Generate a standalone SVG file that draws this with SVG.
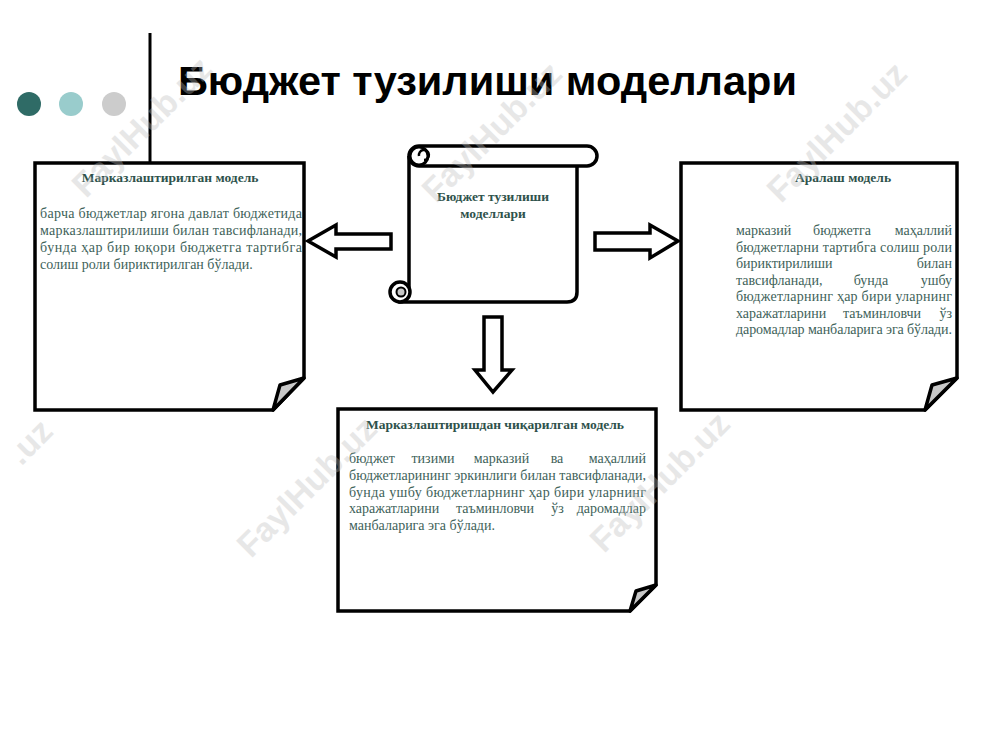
<svg xmlns="http://www.w3.org/2000/svg" width="1000" height="750" viewBox="0 0 1000 750">
<style>
.box{fill:#fff;stroke:#000;stroke-width:3.5;stroke-linejoin:miter}
.fold{fill:#c8c8c8;stroke:#000;stroke-width:3.5;stroke-linejoin:round}
.arrow{fill:#fff;stroke:#000;stroke-width:3.5;stroke-linejoin:miter}
.hd{font-family:"Liberation Serif","Times New Roman",serif;font-weight:bold;font-size:13.5px;fill:#2e524b}
.bd{font-family:"Liberation Serif","Times New Roman",serif;font-size:14px;fill:#3e6259}
.wm{font-family:"Liberation Sans",Arial,sans-serif;font-weight:bold;font-size:34px;fill:#bdbdbd;opacity:0.35}
</style>
<rect width="1000" height="750" fill="#fff"/>

<g id="header">
<line x1="150" y1="33" x2="150" y2="163" stroke="#000" stroke-width="3"/>
<circle cx="29" cy="104" r="12" fill="#2f6b66"/>
<circle cx="71" cy="104" r="12" fill="#99cccc"/>
<circle cx="114" cy="104" r="12" fill="#cccccc"/>
<text x="178" y="95" font-family="'Liberation Sans',Arial,sans-serif" font-weight="bold" font-size="41.5" fill="#000">Бюджет тузилиши моделлари</text>
</g>

<g id="connectors">
<polygon class="arrow" points="308,241 336,225 336,234 391,234 391,249 336,249 336,257"/>
<polygon class="arrow" points="595,233 650,233 650,225 678,241 650,258 650,250 595,250"/>
<polygon class="arrow" points="484,317 502,317 502,370 512,370 493,392 475,370 484,370"/>
</g>

<g id="center-scroll">
<path class="box" d="M409,156 V286 H400 V302 H567 Q577,302 577,292 V166"/>
<rect class="box" x="409" y="146" width="188" height="20" rx="10"/>
<circle cx="419" cy="156" r="9" fill="#fff" stroke="#000" stroke-width="3"/>
<path d="M419,156 a5,5 0 1 1 5,4" fill="none" stroke="#000" stroke-width="2.5"/>
<circle cx="400" cy="292" r="10" fill="#fff" stroke="#000" stroke-width="3.5"/>
<circle cx="401" cy="292" r="4.5" fill="#c8c8c8" stroke="#000" stroke-width="2"/>
<text class="hd" x="493" y="201" text-anchor="middle">Бюджет тузилиши</text>
<text class="hd" x="493" y="218" text-anchor="middle">моделлари</text>
</g>

<g id="left-box">
<path class="box" d="M35,163 H304 V378 L273,410 H35 Z"/>
<path class="fold" d="M273,410 L280,385 L304,378 Z"/>
<text class="hd" x="170" y="182" text-anchor="middle">Марказлаштирилган модель</text>
<text class="bd" x="40" y="218" textLength="262" lengthAdjust="spacing">барча бюджетлар ягона давлат бюджетида</text>
<text class="bd" x="40" y="235" textLength="262" lengthAdjust="spacing">марказлаштирилиши билан тавсифланади,</text>
<text class="bd" x="40" y="252" textLength="262" lengthAdjust="spacing">бунда ҳар бир юқори бюджетга тартибга</text>
<text class="bd" x="40" y="269">солиш роли бириктирилган бўлади.</text>
</g>

<g id="right-box">
<path class="box" d="M681,163 H957 V378 L925,410 H681 Z"/>
<path class="fold" d="M925,410 L932,385 L957,378 Z"/>
<text class="hd" x="843" y="182" text-anchor="middle">Аралаш модель</text>
<text class="bd" x="736" y="235">марказий</text>
<text class="bd" x="842" y="235" text-anchor="middle">бюджетга</text>
<text class="bd" x="952" y="235" text-anchor="end">маҳаллий</text>
<text class="bd" x="736" y="251.5" textLength="216" lengthAdjust="spacing">бюджетларни тартибга солиш роли</text>
<text class="bd" x="736" y="268">бириктирилиши</text>
<text class="bd" x="952" y="268" text-anchor="end">билан</text>
<text class="bd" x="736" y="284.5">тавсифланади,</text>
<text class="bd" x="871" y="284.5" text-anchor="middle">бунда</text>
<text class="bd" x="952" y="284.5" text-anchor="end">ушбу</text>
<text class="bd" x="736" y="301" textLength="216" lengthAdjust="spacing">бюджетларнинг ҳар бири уларнинг</text>
<text class="bd" x="736" y="317.5">харажатларини</text>
<text class="bd" x="882" y="317.5" text-anchor="middle">таъминловчи</text>
<text class="bd" x="952" y="317.5" text-anchor="end">ўз</text>
<text class="bd" x="736" y="334" textLength="216" lengthAdjust="spacing">даромадлар манбаларига эга бўлади.</text>
</g>

<g id="bottom-box">
<path class="box" d="M338,409 H656 V585 L630,611 H338 Z"/>
<path class="fold" d="M630,611 L636,591 L656,585 Z"/>
<text class="hd" x="495" y="429" text-anchor="middle">Марказлаштиришдан чиқарилган модель</text>
<text class="bd" x="349" y="463">бюджет</text>
<text class="bd" x="433" y="463" text-anchor="middle">тизими</text>
<text class="bd" x="501.5" y="463" text-anchor="middle">марказий</text>
<text class="bd" x="557" y="463" text-anchor="middle">ва</text>
<text class="bd" x="646" y="463" text-anchor="end">маҳаллий</text>
<text class="bd" x="349" y="480" textLength="297" lengthAdjust="spacing">бюджетларининг эркинлиги билан тавсифланади,</text>
<text class="bd" x="349" y="497" textLength="297" lengthAdjust="spacing">бунда ушбу бюджетларнинг ҳар бири уларнинг</text>
<text class="bd" x="349" y="513">харажатларини</text>
<text class="bd" x="495" y="513" text-anchor="middle">таъминловчи</text>
<text class="bd" x="557.5" y="513" text-anchor="middle">ўз</text>
<text class="bd" x="646" y="513" text-anchor="end">даромадлар</text>
<text class="bd" x="349" y="530">манбаларига эга бўлади.</text>
</g>

<g id="watermarks">
<text class="wm" transform="translate(150,135) rotate(-45)" text-anchor="middle">FaylHub.uz</text>
<text class="wm" transform="translate(500,140) rotate(-45)" text-anchor="middle">FaylHub.uz</text>
<text class="wm" transform="translate(845,140) rotate(-45)" text-anchor="middle">FaylHub.uz</text>
<text class="wm" transform="translate(315,495) rotate(-45)" text-anchor="middle">FaylHub.uz</text>
<text class="wm" transform="translate(668,490) rotate(-45)" text-anchor="middle">FaylHub.uz</text>
<text class="wm" transform="translate(38,450) rotate(-45)" text-anchor="middle">.uz</text>
</g>
</svg>
